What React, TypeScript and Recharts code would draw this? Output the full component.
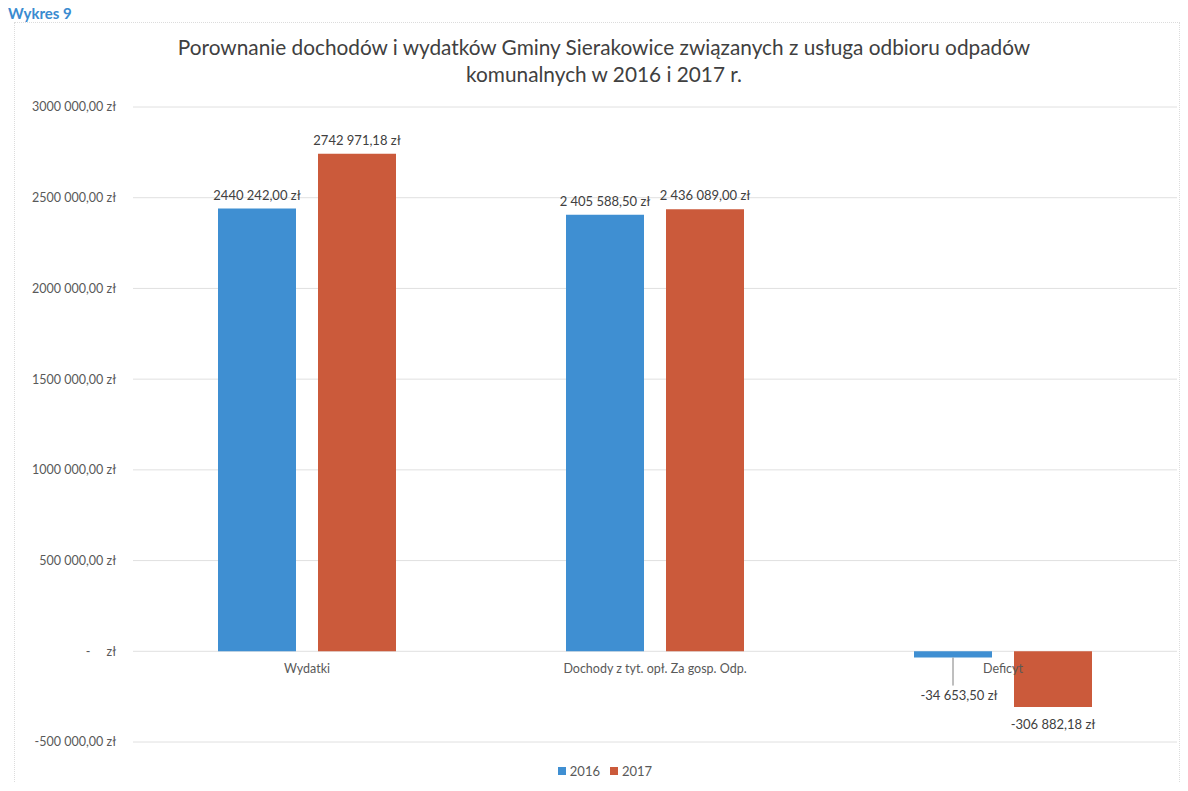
import React from 'react'
import { BarChart, Bar, XAxis, YAxis, CartesianGrid, LabelList } from 'recharts'

const CATEGORIES = ['Wydatki', 'Dochody z tyt. opł. Za gosp. Odp.', 'Deficyt']
const VALUES_2016 = [2440242.0, 2405588.5, -34653.5]
const VALUES_2017 = [2742971.18, 2436089.0, -306882.18]
const LABELS_2016 = ['2440 242,00 zł', '2 405 588,50 zł', '-34 653,50 zł']
const LABELS_2017 = ['2742 971,18 zł', '2 436 089,00 zł', '-306 882,18 zł']
const Y_TICKS = [-500000, 0, 500000, 1000000, 1500000, 2000000, 2500000, 3000000]
const Y_TICK_LABELS = [
  '-500 000,00 zł',
  '-\u00a0\u00a0\u00a0\u00a0\u00a0zł',
  '500 000,00 zł',
  '1000 000,00 zł',
  '1500 000,00 zł',
  '2000 000,00 zł',
  '2500 000,00 zł',
  '3000 000,00 zł',
]
const SERIES = [
  { key: 'v2016', name: '2016', color: '#3f8fd2', labels: LABELS_2016 },
  { key: 'v2017', name: '2017', color: '#cb5a3b', labels: LABELS_2017 },
]

const data = CATEGORIES.map((name, i) => ({
  name,
  v2016: VALUES_2016[i],
  v2017: VALUES_2017[i],
}))

const W = 1188
const H = 791
const TOP = 107
const BOTTOM = 48
const Y_MIN = Y_TICKS[0]
const Y_MAX = Y_TICKS[Y_TICKS.length - 1]
const PLOT_H = H - TOP - BOTTOM - 1
const ZERO_Y = TOP + (PLOT_H * Y_MAX) / (Y_MAX - Y_MIN)
const FONT = 'Lato, "Open Sans", sans-serif'

const CategoryTick = (props: any) => {
  const { x, payload } = props
  return (
    <text x={x} y={ZERO_Y + 22} textAnchor="middle" fontSize={12.5} fill="#595959" fontFamily={FONT}>
      {payload.value}
    </text>
  )
}

const makeLabel = (labels: string[]) => (props: any) => {
  const { x, y, width, height, index, value } = props
  const top = Math.min(y, y + height)
  const bottom = Math.max(y, y + height)
  const cx = x + width / 2
  const txt = labels[index]
  if (value >= 0) {
    return (
      <text x={cx} y={top - 9} textAnchor="middle" fontSize={13} fill="#404040" fontFamily={FONT}>
        {txt}
      </text>
    )
  }
  if (bottom - top < 20) {
    return (
      <g>
        <line x1={cx} y1={bottom} x2={cx} y2={bottom + 28} stroke="#7f7f7f" strokeWidth={1} />
        <text x={cx + 6} y={bottom + 42} textAnchor="middle" fontSize={13} fill="#404040" fontFamily={FONT}>
          {txt}
        </text>
      </g>
    )
  }
  return (
    <text x={cx} y={bottom + 22} textAnchor="middle" fontSize={13} fill="#404040" fontFamily={FONT}>
      {txt}
    </text>
  )
}

export default function App() {
  return (
    <div style={{ position: 'relative', width: W, height: H, margin: -8, background: '#fff', fontFamily: FONT }}>
      <div
        style={{
          position: 'absolute',
          left: 14,
          top: 22,
          width: 1166,
          height: 766,
          border: '1px dotted #dcdcdc',
          boxSizing: 'border-box',
        }}
      />
      <div style={{ position: 'absolute', left: 0, top: 0 }}>
        <BarChart
          width={W}
          height={H}
          data={data}
          margin={{ top: TOP, right: 11, bottom: BOTTOM, left: 0 }}
          barSize={78}
          barGap={22}
        >
          <CartesianGrid vertical={false} stroke="#e0e0e0" />
          <XAxis
            dataKey="name"
            axisLine={false}
            tickLine={false}
            height={1}
            interval={0}
            tick={<CategoryTick />}
          />
          <YAxis
            width={133}
            domain={[Y_MIN, Y_MAX]}
            ticks={Y_TICKS}
            interval={0}
            axisLine={false}
            tickLine={false}
            tickSize={0}
            tickMargin={17}
            tick={{ fontSize: 12.5, fill: '#595959', fontFamily: FONT }}
            tickFormatter={(v: number) => Y_TICK_LABELS[Y_TICKS.indexOf(v)]}
          />
          {SERIES.map((s) => (
            <Bar key={s.key} dataKey={s.key} name={s.name} fill={s.color} isAnimationActive={false}>
              <LabelList dataKey={s.key} content={makeLabel(s.labels)} />
            </Bar>
          ))}
        </BarChart>
      </div>
      <div
        style={{
          position: 'absolute',
          left: 8,
          top: 3,
          fontSize: 15,
          lineHeight: '20px',
          fontWeight: 700,
          color: '#3a8bd0',
          zIndex: 2,
        }}
      >
        Wykres 9
      </div>
      <div
        style={{
          position: 'absolute',
          left: 54,
          width: 1100,
          top: 33,
          textAlign: 'center',
          fontSize: 20.8,
          lineHeight: '27px',
          color: '#404040',
          zIndex: 2,
        }}
      >
        Porownanie dochodów i wydatków Gminy Sierakowice związanych z usługa odbioru odpadów
        <br />
        komunalnych w 2016 i 2017 r.
      </div>
      <div
        style={{
          position: 'absolute',
          left: 0,
          width: 1210,
          top: 763,
          display: 'flex',
          justifyContent: 'center',
          gap: 10,
          fontSize: 13,
          color: '#595959',
        }}
      >
        {SERIES.map((s) => (
          <span key={s.key} style={{ display: 'flex', alignItems: 'center', gap: 4 }}>
            <span style={{ width: 8, height: 8, background: s.color, display: 'inline-block' }} />
            {s.name}
          </span>
        ))}
      </div>
    </div>
  )
}
